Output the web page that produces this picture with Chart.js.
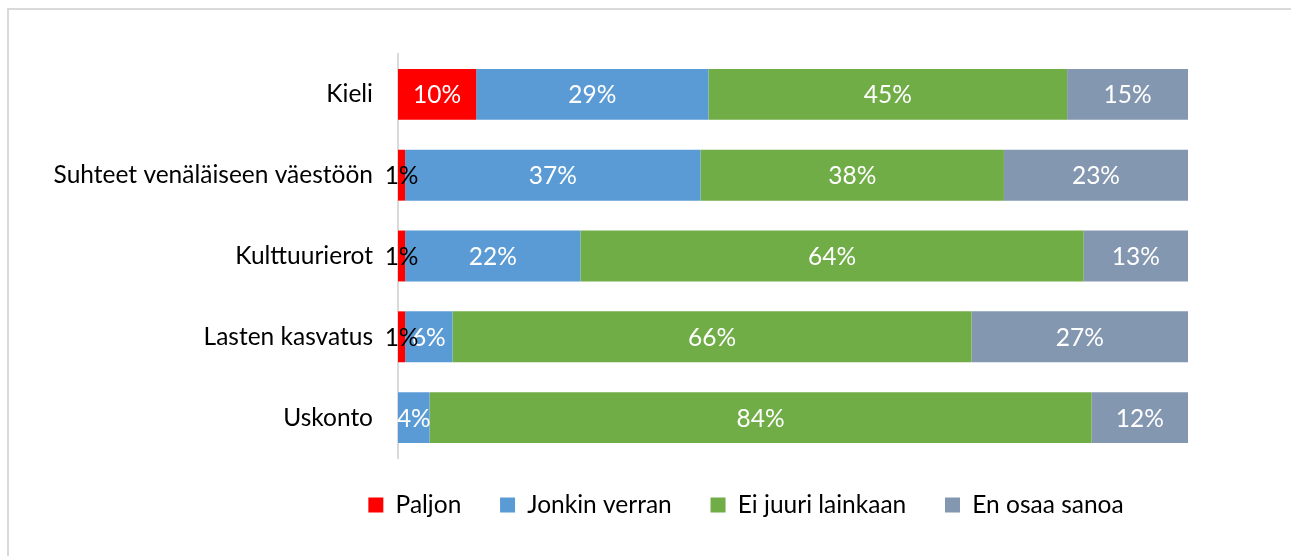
<!DOCTYPE html>
<html>
<head>
<meta charset="utf-8">
<script src="https://cdn.jsdelivr.net/npm/chart.js@4"></script>
<style>
    html, body { margin: 0; padding: 0; background: #fff; }
    #frame { position: absolute; left: 7px; top: 8px; width: 1400px; height: 700px; border: 2px solid #d9d9d9; }
    #wrap { position: absolute; left: 0; top: 0; width: 1291px; height: 556px; }
</style>
</head>
<body>
<div id="frame"></div>
<div id="wrap"><canvas id="chart" width="1291" height="556"></canvas></div>
<script>
const categories = ['Kieli', 'Suhteet venäläiseen väestöön', 'Kulttuurierot', 'Lasten kasvatus', 'Uskonto'];
const paljon = [9.9, 0.9, 0.9, 0.9, 0];
const jonkinVerran = [29.4, 37.4, 22.2, 6.0, 4.0];
const eiJuuriLainkaan = [45.4, 38.4, 63.7, 65.7, 83.8];
const enOsaaSanoa = [15.3, 23.3, 13.2, 27.4, 12.2];
const seriesNames = ['Paljon', 'Jonkin verran', 'Ei juuri lainkaan', 'En osaa sanoa'];
const seriesColors = ['#ff0000', '#5b9bd5', '#70ad47', '#8497b0'];

const FONT = 'Lato';
const FONT_SIZE = 24.5;

// percentage labels inside the bars, drawn last so they sit on top
const barLabels = {
    id: 'barLabels',
    afterDatasetsDraw(chart) {
        const ctx = chart.ctx;
        ctx.save();
        ctx.font = FONT_SIZE + 'px ' + FONT;
        ctx.textAlign = 'center';
        ctx.textBaseline = 'middle';
        for (let i = chart.data.datasets.length - 1; i >= 0; i--) {
            const ds = chart.data.datasets[i];
            chart.getDatasetMeta(i).data.forEach(function (bar, j) {
                const v = ds.data[j];
                if (!v) return;
                const w = Math.abs(bar.x - bar.base);
                ctx.fillStyle = w < 15 ? '#000' : '#fff';
                ctx.fillText(Math.round(v) + '%', (bar.x + bar.base) / 2, bar.y + 1);
            });
        }
        ctx.restore();
    }
};

// legend sits right of centre and a bit higher in the original
const legendShift = {
    id: 'legendShift',
    afterLayout(chart) {
        chart.legend.left += 152;
        chart.legend.right += 152;
        chart.legend.top -= 4;
        chart.legend.bottom -= 4;
    }
};

const sets = [paljon, jonkinVerran, eiJuuriLainkaan, enOsaaSanoa];

new Chart(document.getElementById('chart').getContext('2d'), {
    type: 'bar',
    data: {
        labels: categories,
        datasets: sets.map(function (d, i) {
            return {
                label: seriesNames[i],
                data: d,
                backgroundColor: seriesColors[i],
                borderWidth: 0,
                barPercentage: 0.63,
                categoryPercentage: 1
            };
        })
    },
    options: {
        indexAxis: 'y',
        responsive: false,
        animation: false,
        layout: { padding: { top: 54, right: 103, bottom: 24.75, left: 0 } },
        scales: {
            x: { stacked: true, display: false, min: 0, max: 100 },
            y: {
                stacked: true,
                grid: { display: false, drawTicks: false },
                border: { display: true, color: '#d9d9d9', width: 2 },
                ticks: { color: '#000', font: { family: FONT, size: FONT_SIZE }, padding: 25 },
                afterFit: function (scale) { scale.width = 398; }
            }
        },
        plugins: {
            tooltip: { enabled: false },
            legend: {
                position: 'bottom',
                labels: {
                    boxWidth: 15,
                    boxHeight: 15,
                    padding: 38.75,
                    color: '#000',
                    font: { family: FONT, size: FONT_SIZE }
                }
            }
        }
    },
    plugins: [barLabels, legendShift]
});
</script>
</body>
</html>
